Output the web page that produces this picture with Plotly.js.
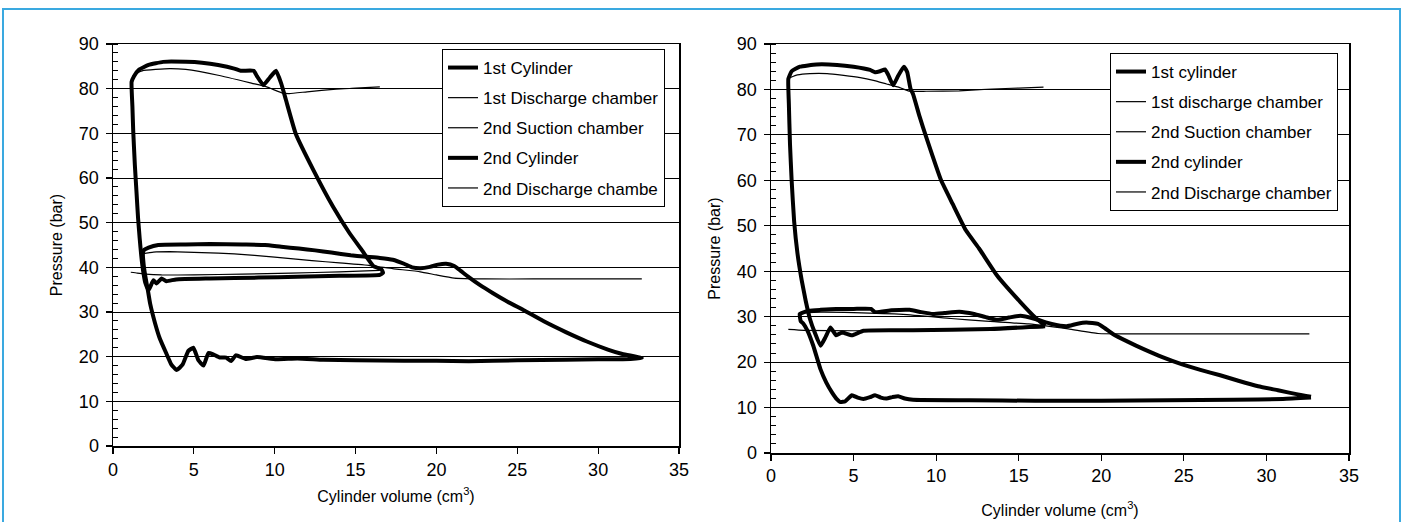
<!DOCTYPE html>
<html>
<head>
<meta charset="utf-8">
<script src="https://cdn.plot.ly/plotly-3.0.1.min.js"></script>
<style>html,body{margin:0;padding:0;background:#fff;}#chart{width:1405px;height:522px;}</style>
</head>
<body>
<div id="chart"></div>
<script>
// ---------- Left chart data ----------
const L_names = ["1st Cylinder", "1st Discharge chamber", "2nd Suction chamber", "2nd Cylinder", "2nd Discharge chambe"];

const L_cyl1_V = [32.7, 31.5, 30.6, 29.3, 28, 26.7, 25.4, 24.4, 23.5, 22.7, 22.0, 21.5, 21.1, 20.6, 20.1, 19.6, 19.0, 18.5, 18.0, 17.3, 16.5, 15.5, 14.7, 13.5, 12.5, 11.5, 10.4, 9.4, 8.0, 6.0, 4.5, 2.8, 2.2, 1.9, 1.85, 1.9, 2.0, 2.15, 2.3, 2.6, 2.9, 3.3, 3.6, 3.94, 4.3, 4.66, 4.97, 5.28, 5.6, 5.9, 6.2, 6.6, 7.0, 7.3, 7.6, 8.2, 8.9, 10.1, 11.4, 13, 15, 18, 20, 22, 25, 28, 30, 32, 32.7];
const L_cyl1_P = [19.7, 20.6, 21.6, 23.4, 25.5, 27.8, 30.4, 32.3, 34.2, 36.0, 37.8, 39.2, 40.3, 40.8, 40.6, 40.1, 39.8, 40.0, 40.8, 41.7, 42.1, 42.4, 42.7, 43.3, 43.8, 44.2, 44.6, 45.0, 45.1, 45.2, 45.1, 45.0, 44.4, 43.8, 43.0, 40.5, 38.0, 35.0, 31.8, 27.5, 24.0, 20.7, 18.3, 17.0, 18.2, 21.3, 22.0, 19.2, 18.0, 20.8, 20.5, 19.8, 19.8, 19.0, 20.3, 19.5, 19.9, 19.4, 19.6, 19.3, 19.2, 19.1, 19.1, 19.0, 19.2, 19.3, 19.4, 19.5, 19.7];

const L_dis1_V = [1.8, 2.5, 3.5, 5.5, 7.5, 10, 12.3, 14, 15.9, 17.3, 19, 20, 21.1, 23, 26, 29, 32.7];
const L_dis1_P = [43.0, 43.4, 43.5, 43.3, 43.0, 42.3, 41.5, 41.0, 40.4, 39.7, 39.0, 38.3, 37.6, 37.4, 37.4, 37.4, 37.4];

const L_suc2_V = [1.1, 1.5, 2.0, 3.0, 5.0, 8.0, 11.0, 14.0, 16.5];
const L_suc2_P = [38.9, 38.7, 38.5, 38.3, 38.3, 38.5, 38.7, 39.0, 39.3];

const L_cyl2_V = [16.7, 16.6, 16.1, 15.4, 14.6, 13.6, 12.4, 11.3, 10.7, 10.4, 10.08, 9.7, 9.3, 8.9, 8.7, 7.9, 7.5, 6.5, 5.5, 4.5, 3.1, 2.2, 1.6, 1.3, 1.15, 1.2, 1.25, 1.35, 1.45, 1.55, 1.65, 1.75, 1.88, 2.0, 2.2, 2.5, 2.7, 3.0, 3.3, 3.9, 6.0, 9.0, 11.4, 14, 16.5, 16.7];
const L_cyl2_P = [38.8, 39.5, 40.3, 43.8, 47.8, 53.6, 61.7, 69.9, 77.4, 81.2, 84.0, 82.5, 80.8, 82.8, 84.0, 84.0, 84.5, 85.3, 85.8, 86.0, 86.0, 85.3, 84.2, 82.8, 81.5, 76, 70.6, 63, 57, 51, 46.5, 42.5, 38.8, 36.5, 34.9, 37.1, 36.4, 37.5, 36.9, 37.3, 37.5, 37.7, 37.9, 38.1, 38.3, 38.8];

const L_dis2_V = [1.15, 1.3, 1.8, 3.5, 4.5, 6.5, 8.6, 9.5, 10.5, 10.9, 12, 13.8, 15, 16.5];
const L_dis2_P = [82.0, 83.2, 84.0, 84.5, 84.3, 83.0, 81.2, 80.4, 79.0, 78.9, 79.3, 79.9, 80.1, 80.4];

// ---------- Right chart data ----------
const R_names = ["1st cylinder", "1st discharge chamber", "2nd Suction chamber", "2nd cylinder", "2nd Discharge chamber"];

const R_cyl1_V = [32.7, 31.9, 30.7, 29.5, 28.3, 27.2, 26.0, 24.9, 23.7, 22.6, 21.6, 20.7, 20.2, 19.8, 19.1, 18.5, 17.9, 17.0, 16.0, 15.1, 14.4, 13.7, 13.0, 12.3, 11.4, 10.5, 9.8, 9.1, 8.4, 7.3, 6.3, 6.05, 5.0, 3.95, 3.0, 2.3, 1.85, 1.74, 1.8, 1.95, 2.2, 2.56, 3.0, 3.35, 3.7, 4.0, 4.2, 4.5, 4.9, 5.25, 5.6, 6.0, 6.3, 6.65, 7.0, 7.35, 7.7, 8.1, 8.6, 12, 16, 20, 24, 28, 31, 32.7];
const R_cyl1_P = [12.4, 12.9, 13.8, 14.7, 15.9, 17.1, 18.3, 19.5, 21.1, 22.8, 24.5, 26.2, 27.5, 28.4, 28.7, 28.4, 27.9, 28.4, 29.5, 30.2, 29.8, 29.3, 29.9, 30.6, 31.1, 30.8, 30.6, 31.0, 31.5, 31.4, 31.0, 31.7, 31.7, 31.7, 31.5, 31.3, 30.8, 30.6, 29.0, 28.5, 27.0, 23.6, 18.4, 15.5, 13.3, 11.8, 11.2, 11.4, 12.7, 12.2, 11.9, 12.3, 12.7, 12.2, 12.0, 12.3, 12.5, 12.0, 11.7, 11.6, 11.5, 11.5, 11.6, 11.7, 11.9, 12.2];

const R_dis1_V = [1.8, 3, 5, 8, 10.9, 13, 15.6, 18, 19.8, 22, 26, 30, 32.6];
const R_dis1_P = [30.8, 31.0, 30.9, 30.5, 29.6, 29.0, 28.4, 27.3, 26.3, 26.2, 26.2, 26.2, 26.2];

const R_suc2_V = [1.05, 2, 5, 10, 14, 16.5];
const R_suc2_P = [27.2, 27.0, 26.9, 27.1, 27.3, 27.6];

const R_cyl2_V = [16.6, 16.0, 15.1, 13.7, 12.6, 11.8, 11.0, 10.3, 9.4, 9.0, 8.6, 8.45, 8.25, 8.05, 7.7, 7.4, 7.1, 6.9, 6.6, 6.3, 6.0, 5.0, 4.0, 2.75, 1.75, 1.25, 1.05, 1.08, 1.15, 1.25, 1.4, 1.6, 1.86, 2.1, 2.36, 2.65, 3.0, 3.3, 3.6, 3.95, 4.3, 4.9, 5.6, 8.6, 13.3, 16.6];
const R_cyl2_P = [28.0, 29.8, 33.2, 39.0, 45.0, 49.0, 54.8, 60.0, 69.5, 74.0, 79.0, 80.1, 83.8, 85.0, 83.0, 80.9, 83.2, 84.4, 84.0, 83.8, 84.3, 85.0, 85.4, 85.5, 85.0, 84.0, 82.3, 77, 68, 60, 51, 44, 38, 33.5, 29.5, 26.5, 23.6, 25.5, 27.6, 25.9, 26.5, 25.9, 26.9, 27.0, 27.3, 27.9];

const R_dis2_V = [1.15, 1.6, 2.36, 3.4, 4.4, 5.4, 6.2, 7.0, 7.8, 8.4, 9.4, 11.4, 13.4, 15, 16.5];
const R_dis2_P = [82.6, 83.2, 83.5, 83.5, 83.1, 82.6, 82.0, 81.2, 80.4, 79.6, 79.6, 79.7, 80.1, 80.3, 80.5];

const xTicks = [0, 5, 10, 15, 20, 25, 30, 35];
const yTicks = [0, 10, 20, 30, 40, 50, 60, 70, 80, 90];

const FONT = "Liberation Sans, Arial, sans-serif";
const THICK = 4, THIN = 1.2;

function tr(V, P, name, w, xa, ya, leg, grp) {
  return {x: V, y: P, name: name, type: 'scatter', mode: 'lines',
    line: {color: '#000', width: w, shape: 'spline', smoothing: 0.4},
    xaxis: xa, yaxis: ya, legend: leg, legendgroup: grp, hoverinfo: 'skip'};
}

const data = [
  tr(L_cyl1_V, L_cyl1_P, L_names[0], THICK, 'x', 'y', 'legend', 'l1'),
  tr(L_dis1_V, L_dis1_P, L_names[1], THIN, 'x', 'y', 'legend', 'l2'),
  tr(L_suc2_V, L_suc2_P, L_names[2], THIN, 'x', 'y', 'legend', 'l3'),
  tr(L_cyl2_V, L_cyl2_P, L_names[3], THICK, 'x', 'y', 'legend', 'l4'),
  tr(L_dis2_V, L_dis2_P, L_names[4], THIN, 'x', 'y', 'legend', 'l5'),
  tr(R_cyl1_V, R_cyl1_P, R_names[0], THICK, 'x2', 'y2', 'legend2', 'r1'),
  tr(R_dis1_V, R_dis1_P, R_names[1], THIN, 'x2', 'y2', 'legend2', 'r2'),
  tr(R_suc2_V, R_suc2_P, R_names[2], THIN, 'x2', 'y2', 'legend2', 'r3'),
  tr(R_cyl2_V, R_cyl2_P, R_names[3], THICK, 'x2', 'y2', 'legend2', 'r4'),
  tr(R_dis2_V, R_dis2_P, R_names[4], THIN, 'x2', 'y2', 'legend2', 'r5')
];

function xax(domain, anchor, lblStand, titleStand) {
  return {domain: domain, anchor: anchor, range: [0, 35], tickvals: xTicks, ticktext: xTicks.map(String),
    showline: true, linecolor: '#000', linewidth: 1.5, mirror: true,
    ticks: 'outside', ticklen: 6, tickcolor: '#000', tickwidth: 1.2,
    ticklabelstandoff: lblStand, showgrid: false, zeroline: false,
    tickfont: {family: FONT, size: 18, color: '#000'},
    title: {text: 'Cylinder volume (cm<sup>3</sup>)', font: {family: FONT, size: 16, color: '#000'}, standoff: titleStand}};
}
function yax(domain, anchor) {
  return {domain: domain, anchor: anchor, range: [0, 90], tickvals: yTicks, ticktext: yTicks.map(String),
    showline: true, linecolor: '#000', linewidth: 1.5, mirror: true,
    ticks: 'outside', ticklen: 6, tickcolor: '#000', tickwidth: 1.2,
    minor: {dtick: 2, ticks: 'inside', ticklen: 5, tickcolor: '#000', tickwidth: 1, showgrid: false},
    showgrid: true, gridcolor: '#000', gridwidth: 1, zeroline: false,
    ticklabelstandoff: 3,
    tickfont: {family: FONT, size: 18, color: '#000'},
    title: {text: 'Pressure (bar)', font: {family: FONT, size: 16, color: '#000'}, standoff: 12}};
}

const legendStyle = {
  bgcolor: '#fff', bordercolor: '#000', borderwidth: 1,
  font: {family: FONT, size: 17, color: '#000'},
  xanchor: 'left', yanchor: 'top', tracegroupgap: 5, traceorder: 'grouped',
  itemwidth: 30
};

const layout = {
  width: 1405, height: 522,
  margin: {l: 0, r: 0, t: 0, b: 0},
  paper_bgcolor: '#fff', plot_bgcolor: '#fff',
  showlegend: true,
  font: {family: FONT, color: '#000'},
  xaxis: xax([113/1405, 679/1405], 'y', 1, 11),
  yaxis: yax([1 - 446/522, 1 - 44/522], 'x'),
  xaxis2: xax([771/1405, 1349/1405], 'y2', 0, 19),
  yaxis2: yax([1 - 453/522, 1 - 44/522], 'x2'),
  legend: Object.assign({x: 442/1405, y: 1 - 49/522}, legendStyle),
  legend2: Object.assign({x: 1110/1405, y: 1 - 53/522}, legendStyle),
  shapes: [{type: 'rect', xref: 'paper', yref: 'paper', x0: 3/1405, x1: 1400/1405, y0: -0.05, y1: 1 - 9/522,
    line: {color: '#3aa9e0', width: 2}, fillcolor: 'rgba(0,0,0,0)', layer: 'below'}]
};

Plotly.newPlot('chart', data, layout, {staticPlot: true, displayModeBar: false});
</script>
</body>
</html>
